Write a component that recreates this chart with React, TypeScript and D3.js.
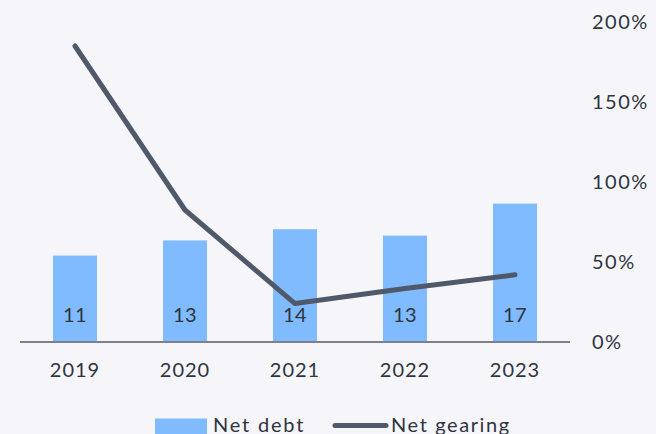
import React from "react";
import * as d3 from "d3";

const years = ["2019", "2020", "2021", "2022", "2023"];
const netDebt = [10.8, 12.7, 14.1, 13.3, 17.3];
const netDebtLabels = ["11", "13", "14", "13", "17"];
const netGearing = [185, 82.5, 24, 33.5, 42];
const gearingTicks = [0, 50, 100, 150, 200];

const W = 656;
const H = 434;
const FONT = "Lato, 'Open Sans', sans-serif";

export default function App() {
  const x = d3.scaleBand<string>().domain(years).range([20, 570]).paddingInner(0.6).paddingOuter(0.3);
  const yL = d3.scaleLinear().domain([0, 40]).range([342, 22]);
  const yR = d3.scaleLinear().domain([0, 200]).range([342, 22]);
  const cx = (d: string) => (x(d) as number) + x.bandwidth() / 2;
  const line = d3
    .line<number>()
    .x((_, i) => cx(years[i]))
    .y((v) => yR(v));

  return (
    <svg width={W} height={H} style={{ position: "absolute", left: 0, top: 0 }} fontFamily={FONT}>
      <rect width={W} height={H} fill="#f6f6fa" />
      {netDebt.map((v, i) => (
        <rect key={years[i]} x={x(years[i])} y={yL(v)} width={x.bandwidth()} height={yL(0) - yL(v)} fill="#80bbff" />
      ))}
      {netDebtLabels.map((t, i) => (
        <text key={"l" + i} x={cx(years[i])} y={315} dy="0.35em" textAnchor="middle" fontSize={20} letterSpacing={0.5} fill="#2e3440">
          {t}
        </text>
      ))}
      <line x1={20} x2={570} y1={342} y2={342} stroke="#7b8089" strokeWidth={2} />
      {years.map((y) => (
        <text key={y} x={cx(y)} y={370} dy="0.35em" textAnchor="middle" fontSize={20} letterSpacing={1} fill="#2e3440">
          {y}
        </text>
      ))}
      {gearingTicks.map((t) => (
        <text key={t} x={592} y={yR(t)} dy="0.35em" fontSize={20} letterSpacing={1.5} fill="#2e3440">
          {t + "%"}
        </text>
      ))}
      <path d={line(netGearing) || ""} fill="none" stroke="#4f596a" strokeWidth={5} strokeLinecap="round" strokeLinejoin="round" />
      <rect x={155} y={418.5} width={52} height={20} fill="#80bbff" />
      <text x={213} y={431.5} fontSize={20} letterSpacing={1.8} fill="#2e3440">Net debt</text>
      <line x1={335} x2={386} y1={425.5} y2={425.5} stroke="#4f596a" strokeWidth={5} strokeLinecap="round" />
      <text x={391} y={431.5} fontSize={20} letterSpacing={1.6} fill="#2e3440">Net gearing</text>
    </svg>
  );
}
